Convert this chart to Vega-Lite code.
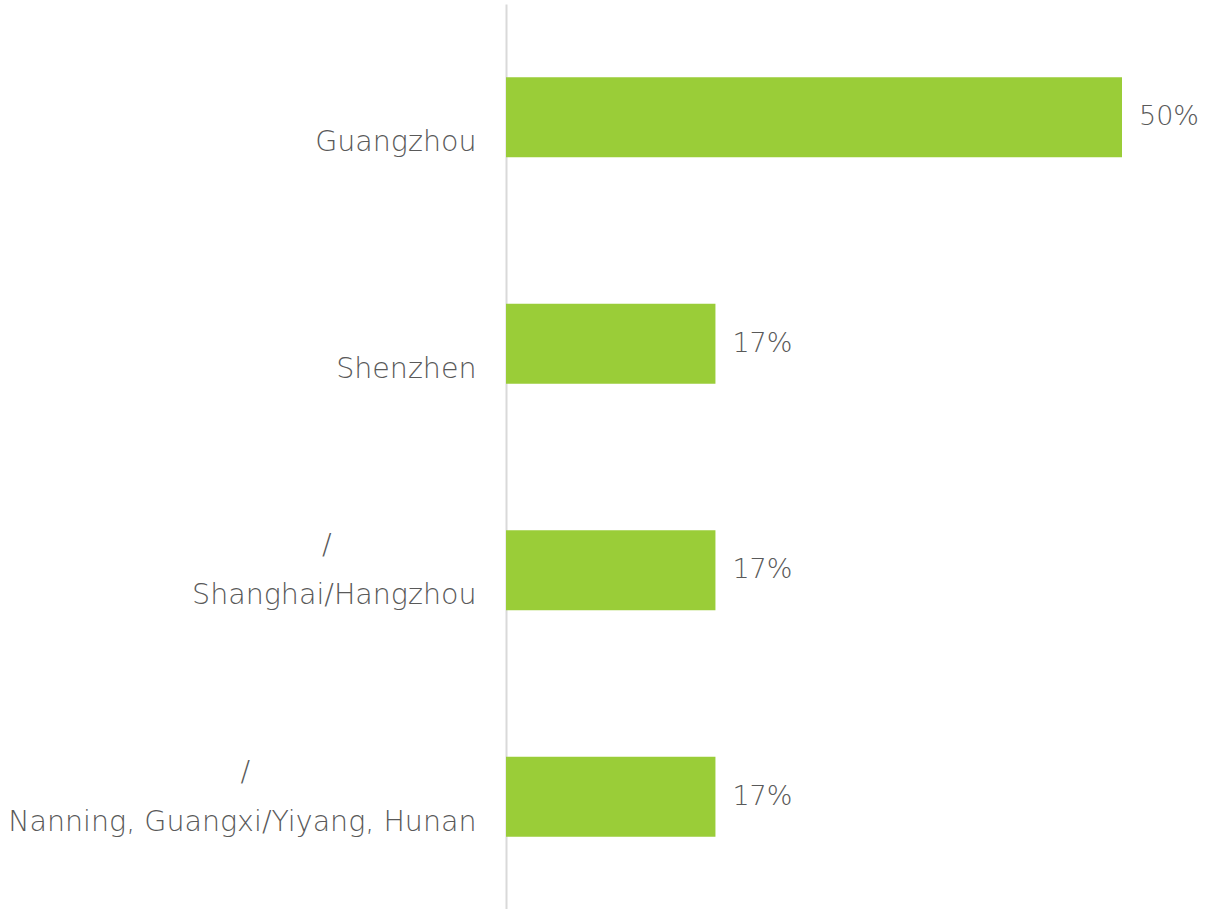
{
  "$schema": "https://vega.github.io/schema/vega-lite/v6.json",
  "autosize": "none",
  "padding": {"left": 506, "top": 4, "right": 95, "bottom": 0},
  "width": 616,
  "height": 906,
  "background": "white",
  "data": {
    "values": [
      {"city": "\u00a0\nGuangzhou", "share": 0.50, "order": 1},
      {"city": "\u00a0\nShenzhen", "share": 0.17, "order": 2},
      {"city": "/\u00a0\u00a0\u00a0\u00a0\u00a0\u00a0\u00a0\u00a0\u00a0\u00a0\u00a0\u00a0\u00a0\u00a0\u00a0\u00a0\u200b\nShanghai/Hangzhou", "share": 0.17, "order": 3},
      {"city": "/\u00a0\u00a0\u00a0\u00a0\u00a0\u00a0\u00a0\u00a0\u00a0\u00a0\u00a0\u00a0\u00a0\u00a0\u00a0\u00a0\u00a0\u00a0\u00a0\u00a0\u00a0\u00a0\u00a0\u00a0\u00a0\u200b\nNanning, Guangxi/Yiyang, Hunan", "share": 0.17, "order": 4}
    ]
  },
  "encoding": {
    "y": {
      "field": "city",
      "type": "nominal",
      "sort": {"field": "order"},
      "scale": {"paddingInner": 0.647, "paddingOuter": 0.3235},
      "axis": {
        "title": null,
        "ticks": false,
        "domainColor": "#d9d9d9",
        "domainWidth": 2,
        "labelPadding": 30,
        "labelOffset": -25,
        "labelFont": "DejaVu Sans",
        "labelFontWeight": 200,
        "labelFontSize": 28.5,
        "labelColor": "#595959",
        "labelLineHeight": 50,
        "labelLimit": 600,
        "labelExpr": "split(datum.label, '\\n')"
      }
    },
    "x": {
      "field": "share",
      "type": "quantitative",
      "scale": {"domain": [0, 0.5]},
      "axis": null
    }
  },
  "layer": [
    {"mark": {"type": "bar", "color": "#9acd38"}},
    {
      "mark": {"type": "text", "align": "left", "baseline": "middle", "dx": 17, "font": "DejaVu Sans", "fontWeight": 200, "fontSize": 27, "color": "#595959"},
      "encoding": {"text": {"field": "share", "format": ".0%"}}
    }
  ],
  "config": {"view": {"stroke": null}}
}
